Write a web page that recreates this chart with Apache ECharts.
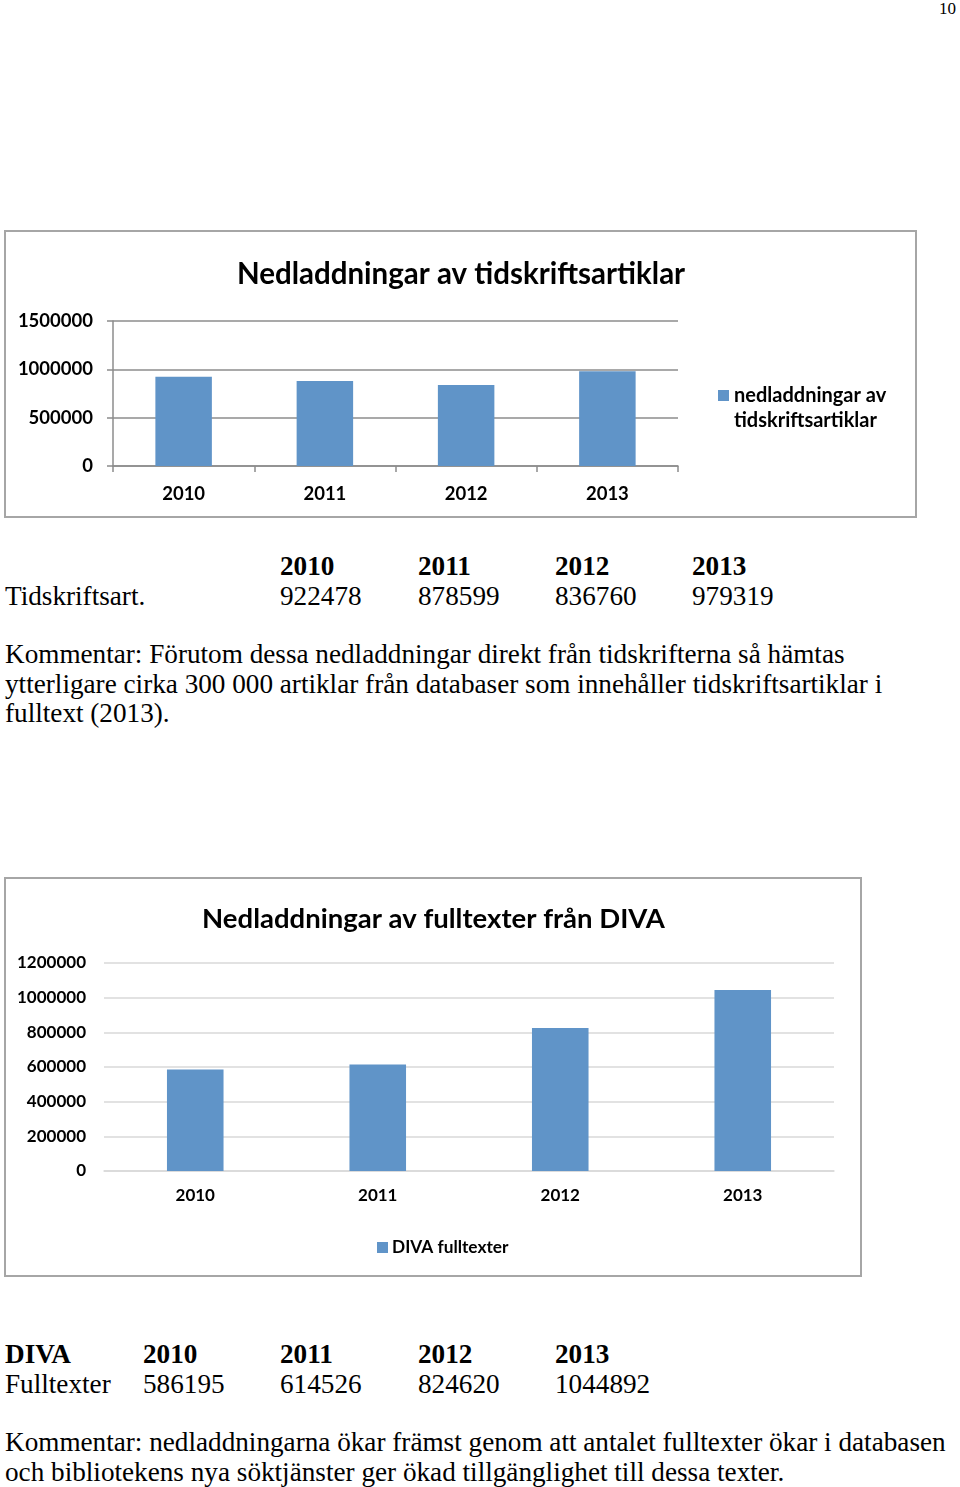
<!DOCTYPE html>
<html>
<head>
<meta charset="utf-8">
<script src="https://cdn.jsdelivr.net/npm/echarts@6/dist/echarts.min.js"></script>
<style>
  html, body { margin: 0; padding: 0; background: #fff; }
  body { width: 960px; height: 1487px; position: relative; overflow: hidden; }
  .serif { position: absolute; font-family: "Liberation Serif", "DejaVu Serif", serif; color: #000; white-space: nowrap; }
  .chart { position: absolute; }
</style>
</head>
<body>
<div class="serif" style="left:939px; top:-1px; font-size:17px;">10</div>
<div id="c1" class="chart" style="left:4px; top:230px; width:914px; height:289px;"></div>
<div id="t1"></div>
<div class="serif" style="left:5px; top:640px; font-size:27.2px; line-height:29.5px;">Kommentar: Förutom dessa nedladdningar direkt från tidskrifterna så hämtas<br>ytterligare cirka 300 000 artiklar från databaser som innehåller tidskriftsartiklar i<br>fulltext (2013).</div>
<div id="c2" class="chart" style="left:4px; top:877px; width:859px; height:401px;"></div>
<div id="t2"></div>
<div class="serif" style="left:5px; top:1428px; font-size:27.2px; line-height:29.5px;">Kommentar: nedladdningarna ökar främst genom att antalet fulltexter ökar i databasen<br>och bibliotekens nya söktjänster ger ökad tillgänglighet till dessa texter.</div>
<script>
const years = ['2010', '2011', '2012', '2013'];
const tidskriftsart = [922478, 878599, 836760, 979319];
const divaFulltexter = [586195, 614526, 824620, 1044892];
const title1 = 'Nedladdningar av tidskriftsartiklar';
const series1Name = 'nedladdningar av tidskriftsartiklar';
const title2 = 'Nedladdningar av fulltexter från DIVA';
const series2Name = 'DIVA fulltexter';

const BAR = '#6094c8';
const SANS = 'Lato, "Open Sans", sans-serif';

// Tables built from data arrays
function table(containerId, rows, top, colX, labelX) {
  const el = document.getElementById(containerId);
  let html = '';
  rows.forEach((r, ri) => {
    const y = top + ri * 30;
    const weight = r.bold ? 'bold' : 'normal';
    if (r.label) html += `<div class="serif" style="left:${labelX}px;top:${y}px;font-size:27.2px;font-weight:${weight};line-height:30px;">${r.label}</div>`;
    r.cells.forEach((c, i) => {
      html += `<div class="serif" style="left:${colX[i]}px;top:${y}px;font-size:27.2px;font-weight:${weight};line-height:30px;">${c}</div>`;
    });
  });
  el.innerHTML = html;
}
table('t1', [
  { label: '', cells: years, bold: true },
  { label: 'Tidskriftsart.', cells: tidskriftsart.map(String), bold: false }
], 551, [280, 418, 555, 692], 5);
table('t2', [
  { label: 'DIVA', cells: years, bold: true },
  { label: 'Fulltexter', cells: divaFulltexter.map(String), bold: false }
], 1339, [143, 280, 418, 555], 5);

const plain = v => String(v);

// Chart 1
const chart1 = echarts.init(document.getElementById('c1'), null, { renderer: 'canvas' });
chart1.setOption({
  animation: false,
  backgroundColor: '#fff',
  title: {
    text: title1, left: 'center', top: 29, padding: 0,
    textStyle: { fontFamily: SANS, fontWeight: 'bold', fontSize: 29.5, color: '#000' }
  },
  graphic: [{
    type: 'rect', shape: { x: 1, y: 1, width: 911, height: 286 },
    style: { fill: 'none', stroke: '#a6a6a6', lineWidth: 2 }, silent: true
  }],
  legend: {
    orient: 'vertical', left: 714, top: 153, padding: 0,
    itemWidth: 11, itemHeight: 36, itemGap: 6,
    icon: 'path://M0,0L11,0L11,11L0,11Z M0,36L0.001,36',
    formatter: () => 'nedladdningar av\ntidskriftsartiklar',
    textStyle: { fontFamily: SANS, fontWeight: 'bold', fontSize: 20, color: '#000', lineHeight: 25 }
  },
  grid: { left: 109, top: 91, width: 565, height: 145 },
  xAxis: {
    type: 'category', data: years,
    axisLine: { lineStyle: { color: '#8c8c8c', width: 1.5 } },
    axisTick: { show: true, length: 6, lineStyle: { color: '#8c8c8c', width: 1.5 } },
    axisLabel: { margin: 19, fontFamily: SANS, fontWeight: 'bold', fontSize: 18.5, color: '#000' }
  },
  yAxis: {
    type: 'value', min: 0, max: 1500000, interval: 500000,
    axisLine: { show: true, lineStyle: { color: '#8c8c8c', width: 1.5 } },
    axisTick: { show: true, inside: false, length: 6, lineStyle: { color: '#8c8c8c', width: 1.5 } },
    splitLine: { lineStyle: { color: '#8c8c8c', width: 1.5 } },
    axisLabel: { margin: 20, formatter: plain, fontFamily: SANS, fontWeight: 'bold', fontSize: 18.5, color: '#000' }
  },
  series: [{
    name: series1Name, type: 'bar', data: tidskriftsart, barWidth: '40%',
    itemStyle: { color: BAR }
  }]
});

// Chart 2
const chart2 = echarts.init(document.getElementById('c2'), null, { renderer: 'canvas' });
chart2.setOption({
  animation: false,
  backgroundColor: '#fff',
  title: {
    text: title2, left: 'center', top: 28, padding: 0,
    textStyle: { fontFamily: SANS, fontWeight: 'bold', fontSize: 27.5, color: '#000' }
  },
  graphic: [{
    type: 'rect', shape: { x: 1, y: 1, width: 856, height: 398 },
    style: { fill: 'none', stroke: '#a6a6a6', lineWidth: 2 }, silent: true
  }],
  legend: {
    left: 373, top: 362, padding: 0,
    itemWidth: 11, itemHeight: 11, itemGap: 5,
    icon: 'rect',
    textStyle: { fontFamily: SANS, fontWeight: 'bold', fontSize: 17.3, color: '#000', padding: [0, 0, 0, -1] }
  },
  grid: { left: 100, top: 86, width: 730, height: 208 },
  xAxis: {
    type: 'category', data: years,
    axisLine: { lineStyle: { color: '#d9d9d9', width: 1.5 } },
    axisTick: { show: false },
    axisLabel: { margin: 16, fontFamily: SANS, fontWeight: 'bold', fontSize: 17, color: '#000' }
  },
  yAxis: {
    type: 'value', min: 0, max: 1200000, interval: 200000,
    axisLine: { show: false },
    axisTick: { show: false },
    splitLine: { lineStyle: { color: '#d9d9d9', width: 1.5 } },
    axisLabel: { margin: 18, formatter: plain, fontFamily: SANS, fontWeight: 'bold', fontSize: 17, color: '#000' }
  },
  series: [{
    name: series2Name, type: 'bar', data: divaFulltexter, barWidth: '31%',
    itemStyle: { color: BAR }
  }]
});
</script>
</body>
</html>
